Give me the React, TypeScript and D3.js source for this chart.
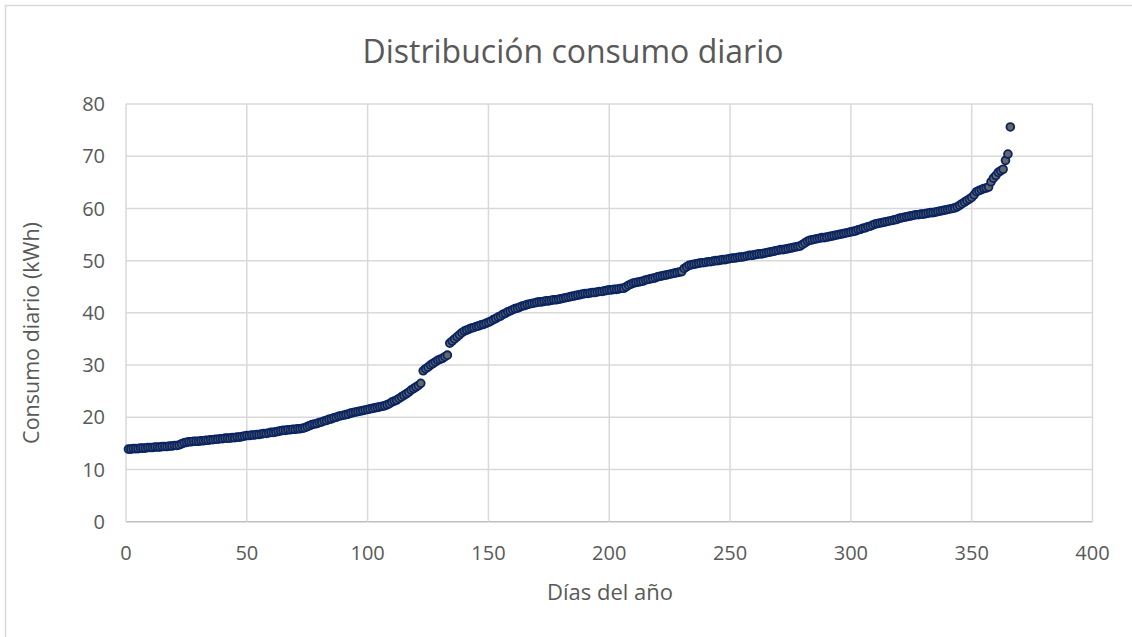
import React from "react";
import * as d3 from "d3";

const consumoQ1: number[] = [
  13.9, 13.9, 14.0, 14.0, 14.0, 14.1, 14.1, 14.1, 14.2, 14.2,
  14.2, 14.3, 14.3, 14.3, 14.4, 14.4, 14.4, 14.5, 14.5, 14.6,
  14.6, 14.7, 14.9, 15.1, 15.2, 15.3, 15.3, 15.4, 15.4, 15.4,
  15.5, 15.5, 15.6, 15.6, 15.7, 15.7, 15.8, 15.8, 15.9, 15.9,
  16.0, 16.0, 16.0, 16.1, 16.1, 16.2, 16.2, 16.3, 16.4, 16.5,
  16.5, 16.6, 16.6, 16.7, 16.7, 16.8, 16.9, 16.9, 17.0, 17.1,
  17.1, 17.2, 17.3, 17.4, 17.5, 17.5, 17.6, 17.6, 17.7, 17.7,
  17.8, 17.8, 17.9, 18.0, 18.2, 18.4, 18.6, 18.7, 18.8, 19.0,
  19.1, 19.3, 19.4, 19.6, 19.7, 19.9, 20.0, 20.2, 20.3, 20.4,
];
const consumoQ2: number[] = [
  20.5, 20.6, 20.8, 20.9, 21.0, 21.1, 21.2, 21.3, 21.4, 21.5,
  21.6, 21.7, 21.8, 21.9, 22.0, 22.1, 22.2, 22.4, 22.6, 22.9,
  23.1, 23.3, 23.6, 23.9, 24.2, 24.5, 24.8, 25.2, 25.5, 25.8,
  26.1, 26.5, 28.9, 29.3, 29.6, 30.0, 30.3, 30.6, 30.9, 31.1,
  31.3, 31.6, 31.9, 34.2, 34.6, 35.0, 35.4, 35.8, 36.2, 36.5,
  36.7, 36.9, 37.1, 37.2, 37.4, 37.5, 37.7, 37.8, 38.0, 38.2,
  38.4, 38.7, 38.9, 39.2, 39.4, 39.7, 39.9, 40.2, 40.4, 40.6,
  40.8, 40.9, 41.1, 41.3, 41.4, 41.6, 41.7, 41.8, 41.9, 42.0,
  42.1, 42.1, 42.2, 42.3, 42.3, 42.4, 42.5, 42.5, 42.6, 42.7,
];
const consumoQ3: number[] = [
  42.8, 42.9, 43.0, 43.1, 43.2, 43.3, 43.4, 43.5, 43.6, 43.7,
  43.7, 43.8, 43.9, 43.9, 44.0, 44.1, 44.1, 44.2, 44.3, 44.4,
  44.4, 44.5, 44.5, 44.6, 44.7, 44.7, 45.0, 45.3, 45.5, 45.7,
  45.8, 45.9, 46.0, 46.1, 46.3, 46.4, 46.5, 46.6, 46.7, 46.9,
  47.0, 47.1, 47.2, 47.3, 47.4, 47.5, 47.6, 47.7, 47.8, 47.9,
  48.5, 48.8, 49.1, 49.2, 49.3, 49.4, 49.5, 49.6, 49.6, 49.7,
  49.8, 49.8, 49.9, 50.0, 50.0, 50.1, 50.2, 50.2, 50.3, 50.4,
  50.5, 50.5, 50.6, 50.7, 50.7, 50.8, 50.9, 51.0, 51.0, 51.1,
  51.2, 51.3, 51.3, 51.4, 51.5, 51.6, 51.7, 51.8, 51.9, 52.0,
];
const consumoQ4: number[] = [
  52.1, 52.1, 52.2, 52.3, 52.4, 52.5, 52.6, 52.7, 52.8, 53.1,
  53.4, 53.7, 53.9, 54.0, 54.1, 54.2, 54.3, 54.4, 54.4, 54.5,
  54.6, 54.7, 54.8, 54.9, 55.0, 55.1, 55.2, 55.3, 55.4, 55.5,
  55.6, 55.7, 55.9, 56.0, 56.2, 56.3, 56.5, 56.6, 56.8, 57.0,
  57.1, 57.2, 57.3, 57.4, 57.5, 57.6, 57.7, 57.8, 57.9, 58.1,
  58.2, 58.3, 58.4, 58.5, 58.6, 58.7, 58.8, 58.8, 58.9, 58.9,
  59.0, 59.1, 59.2, 59.2, 59.3, 59.4, 59.5, 59.6, 59.7, 59.8,
  59.9, 60.0, 60.1, 60.3, 60.6, 60.9, 61.2, 61.5, 61.8, 62.1,
  62.6, 63.2, 63.4, 63.6, 63.8, 63.9, 64.1, 65.1, 65.8, 66.3,
  66.9, 67.2, 67.5, 69.2, 70.4, 75.6,
];

const xTicks: number[] = [0, 50, 100, 150, 200, 250, 300, 350, 400];
const yTicks: number[] = [0, 10, 20, 30, 40, 50, 60, 70, 80];

const titleText = "Distribución consumo diario";
const xTitle = "Días del año";
const yTitle = "Consumo diario (kWh)";

export default function App() {
  const W = 1132;
  const H = 637;
  const left = 126;
  const right = 1092.5;
  const top = 104;
  const bottom = 521.7;

  const consumo = [...consumoQ1, ...consumoQ2, ...consumoQ3, ...consumoQ4];
  const points = consumo.map((v, i) => ({ dia: i + 1, v }));

  const x = d3.scaleLinear().domain([0, 400]).range([left, right]);
  const y = d3.scaleLinear().domain([0, 80]).range([bottom, top]);

  const font = "'Open Sans', 'Noto Sans', sans-serif";
  const grid = "#d9d9d9";
  const textCol = "#595959";

  return (
    <svg
      width={W}
      height={H}
      style={{ position: "absolute", left: 0, top: 0, background: "#fff" }}
    >
      <rect x={0} y={0} width={W} height={H} fill="#fff" />
      <rect
        x={5.5}
        y={5.5}
        width={W + 10}
        height={H + 10}
        fill="none"
        stroke={grid}
        strokeWidth={1.5}
      />
      {yTicks.map((t) => (
        <line
          key={"gy" + t}
          x1={left}
          x2={right}
          y1={y(t)}
          y2={y(t)}
          stroke={t === 0 ? "#bfbfbf" : grid}
          strokeWidth={1.5}
        />
      ))}
      {xTicks.map((t) => (
        <line
          key={"gx" + t}
          x1={x(t)}
          x2={x(t)}
          y1={top}
          y2={bottom}
          stroke={grid}
          strokeWidth={1.5}
        />
      ))}
      {yTicks.map((t) => (
        <text
          key={"ty" + t}
          x={105}
          y={y(t)}
          dy="0.36em"
          textAnchor="end"
          fontFamily={font}
          fontSize={20}
          fill={textCol}
        >
          {t}
        </text>
      ))}
      {xTicks.map((t) => (
        <text
          key={"tx" + t}
          x={x(t)}
          y={560}
          textAnchor="middle"
          fontFamily={font}
          fontSize={20}
          fill={textCol}
        >
          {t}
        </text>
      ))}
      <text
        x={573}
        y={63}
        textAnchor="middle"
        fontFamily={font}
        fontSize={32}
        fill={textCol}
      >
        {titleText}
      </text>
      <text
        x={610}
        y={600}
        textAnchor="middle"
        fontFamily={font}
        fontSize={22}
        fill={textCol}
      >
        {xTitle}
      </text>
      <text
        transform={`translate(31, 333) rotate(-90)`}
        textAnchor="middle"
        dy="0.36em"
        fontFamily={font}
        fontSize={21.5}
        fill={textCol}
      >
        {yTitle}
      </text>
      <g>
        {points.map((p) => (
          <circle
            key={p.dia}
            cx={x(p.dia)}
            cy={y(p.v)}
            r={3.9}
            fill="#666666"
            stroke="#082463"
            strokeWidth={1.8}
          />
        ))}
      </g>
    </svg>
  );
}
